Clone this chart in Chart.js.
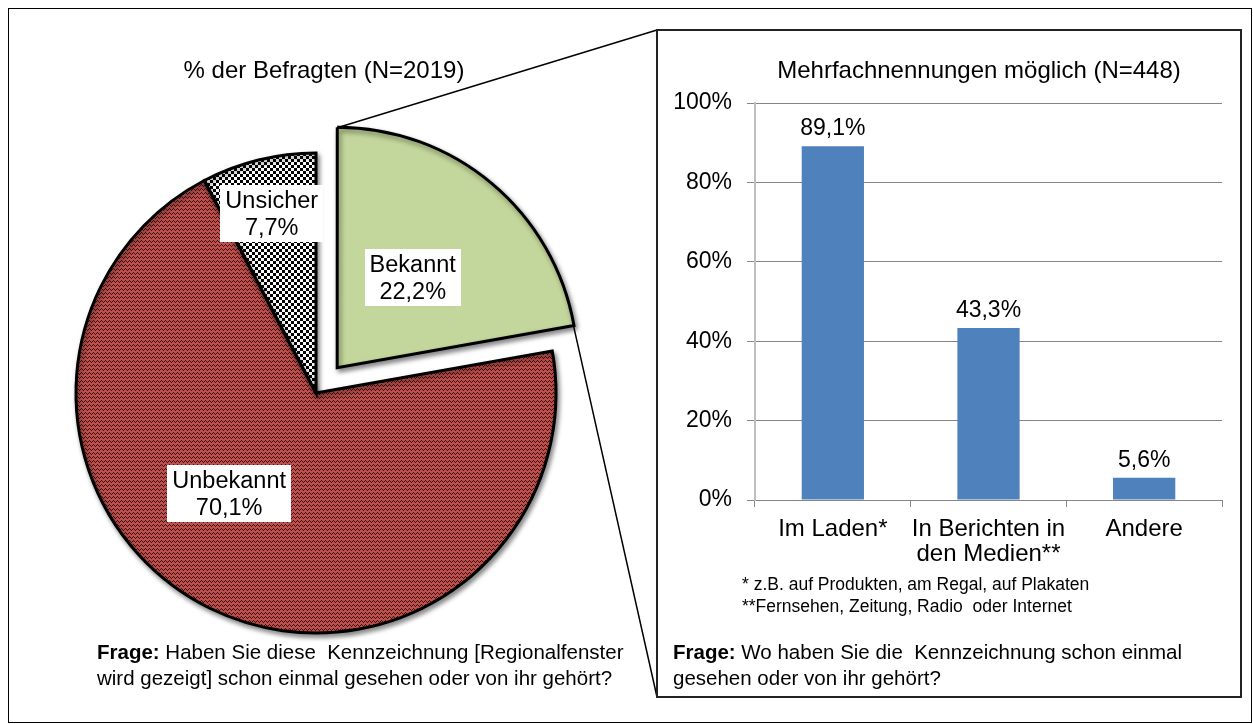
<!DOCTYPE html>
<html>
<head>
<meta charset="utf-8">
<script src="https://cdn.jsdelivr.net/npm/chart.js@4"></script>
<style>
    html, body { margin: 0; padding: 0; background: #fff; }
    body { width: 1253px; height: 724px; position: relative; overflow: hidden;
           font-family: "Liberation Sans", Arial, sans-serif; color: #000; }
    canvas { position: absolute; }
    #pie   { left: 0; top: 0; z-index: 0; }
    #bar   { left: 660px; top: 32px; z-index: 2; }
    .frame { position: absolute; left: 8px; top: 8px; width: 1244px; height: 715px;
             border: 1px solid #000; box-sizing: border-box; z-index: 1; }
    .box   { position: absolute; left: 656px; top: 29px; width: 586px; height: 669px;
             border: 2px solid #222; box-sizing: border-box; z-index: 1; }
    .txt   { position: absolute; z-index: 3; white-space: nowrap; }
    .title { font-size: 24px; line-height: 28px; text-align: center; width: 600px; top: 56px; }
    .frage { font-size: 20.5px; line-height: 26px; top: 639px; }
    .note  { font-size: 17.5px; line-height: 22px; left: 742px; top: 573px; }
</style>
</head>
<body>
<div class="frame"></div>
<div class="box"></div>
<canvas id="pie" width="1253" height="724"></canvas>
<canvas id="bar" width="578" height="580"></canvas>

<div class="txt title" style="left:24px">% der Befragten (N=2019)</div>
<div class="txt title" style="left:679px">Mehrfachnennungen möglich (N=448)</div>
<div class="txt frage" style="left:97px"><b>Frage:</b> Haben Sie diese&nbsp; Kennzeichnung [Regionalfenster<br>wird gezeigt] schon einmal gesehen oder von ihr gehört?</div>
<div class="txt frage" style="left:673px"><b>Frage:</b> Wo haben Sie die&nbsp; Kennzeichnung schon einmal<br>gesehen oder von ihr gehört?</div>
<div class="txt note">* z.B. auf Produkten, am Regal, auf Plakaten<br>**Fernsehen, Zeitung, Radio&nbsp; oder Internet</div>

<script>
// left: pie
const pieLabels = ['Bekannt', 'Unbekannt', 'Unsicher']
const pieValues = [22.2, 70.1, 7.7]

// right: bars
const barLabels = ['Im Laden*', ['In Berichten in', 'den Medien**'], 'Andere']
const barValues = [89.1, 43.3, 5.6]
const yMin  = 0
const yMax  = 100
const yStep = 20

// label placement inside the slices (fraction of radius, angle shift in degrees)
const pieLabelPos = [{ r: 0.49, da: 0 }, { r: 0.555, da: 14.6 }, { r: 0.77, da: 0 }]
// corners of the zoom box the exploded slice points to
const boxEdge = { left: 657, top: 30, bottom: 697 }

const FONT = '"Liberation Sans", Arial, sans-serif'
Chart.defaults.font.family = FONT
Chart.defaults.color = '#000'

const pct = (v) => v.toFixed(1).replace('.', ',') + '%'

function zigzag() {
    let c = document.createElement('canvas')
    c.width = 4
    c.height = 4
    let x = c.getContext('2d')
    x.fillStyle = '#c0504d'
    x.fillRect(0, 0, 4, 4)
    x.fillStyle = '#3a1212'
    ;[1, 0, 1, 2].forEach((y, i) => x.fillRect(i, y, 1, 1))
    return x.createPattern(c, 'repeat')
}

function checker() {
    let c = document.createElement('canvas')
    c.width = 6
    c.height = 6
    let x = c.getContext('2d')
    x.fillStyle = '#fff'
    x.fillRect(0, 0, 6, 6)
    x.fillStyle = '#000'
    x.fillRect(0, 0, 3, 3)
    x.fillRect(3, 3, 3, 3)
    return x.createPattern(c, 'repeat')
}

function sliceCenter(arc) {
    let off  = (arc.options.offset || 0) / 4
    let half = (arc.startAngle + arc.endAngle) / 2
    return { x: arc.x + Math.cos(half) * off, y: arc.y + Math.sin(half) * off }
}

const shadowPlugin = {
    id: 'shadow',
    beforeDatasetsDraw(chart) {
        let ctx = chart.ctx
        ctx.save()
        ctx.shadowColor = 'rgba(0,0,0,0.45)'
        ctx.shadowBlur = 5
        ctx.shadowOffsetX = 2
        ctx.shadowOffsetY = 3
    },
    afterDatasetsDraw(chart) {
        chart.ctx.restore()
    }
}

const connectorPlugin = {
    id: 'connector',
    afterDraw(chart) {
        let ctx = chart.ctx
        let arc = chart.getDatasetMeta(0).data[0]
        let c = sliceCenter(arc)
        let R = arc.outerRadius
        ctx.save()
        ctx.strokeStyle = '#000'
        ctx.lineWidth = 1.5
        ctx.beginPath()
        ctx.moveTo(c.x + Math.cos(arc.startAngle) * R, c.y + Math.sin(arc.startAngle) * R)
        ctx.lineTo(boxEdge.left, boxEdge.top)
        ctx.moveTo(c.x + Math.cos(arc.endAngle) * R, c.y + Math.sin(arc.endAngle) * R)
        ctx.lineTo(boxEdge.left, boxEdge.bottom)
        ctx.stroke()
        ctx.restore()
    }
}

const pieLabelPlugin = {
    id: 'pieLabels',
    afterDraw(chart) {
        let ctx = chart.ctx
        let meta = chart.getDatasetMeta(0)
        ctx.save()
        ctx.font = '23.5px ' + FONT
        ctx.textAlign = 'center'
        ctx.textBaseline = 'middle'
        meta.data.forEach((arc, i) => {
            let c = sliceCenter(arc)
            let pos = pieLabelPos[i]
            let a = (arc.startAngle + arc.endAngle) / 2 + pos.da * Math.PI / 180
            let x = c.x + Math.cos(a) * arc.outerRadius * pos.r
            let y = c.y + Math.sin(a) * arc.outerRadius * pos.r
            let lines = [pieLabels[i], pct(pieValues[i])]
            let w = Math.max(...lines.map((l) => ctx.measureText(l).width)) + 10
            let lh = 27
            let h = lh * 2 + 3
            ctx.fillStyle = '#fff'
            ctx.fillRect(Math.round(x - w / 2), Math.round(y - h / 2), Math.round(w), h)
            ctx.fillStyle = '#000'
            ctx.fillText(lines[0], x, y - lh / 2 + 1)
            ctx.fillText(lines[1], x, y + lh / 2 + 1)
        })
        ctx.restore()
    }
}

new Chart(document.getElementById('pie'), {
    type: 'pie',
    data: {
        labels: pieLabels,
        datasets: [{
            data: pieValues,
            backgroundColor: ['#c3d69b', zigzag(), checker()],
            borderColor: '#000',
            borderWidth: 3,
            borderJoinStyle: 'miter',
            offset: [132, 0, 0]
        }]
    },
    options: {
        responsive: false,
        animation: false,
        events: [],
        radius: 240,
        layout: { padding: { left: 0, right: 621, top: 62, bottom: 0 } },
        plugins: { legend: { display: false }, tooltip: { enabled: false } }
    },
    plugins: [shadowPlugin, connectorPlugin, pieLabelPlugin]
})

const valuePlugin = {
    id: 'values',
    afterDatasetsDraw(chart) {
        let ctx = chart.ctx
        ctx.save()
        ctx.font = '23px ' + FONT
        ctx.fillStyle = '#000'
        ctx.textAlign = 'center'
        ctx.textBaseline = 'alphabetic'
        chart.getDatasetMeta(0).data.forEach((bar, i) => {
            ctx.fillText(pct(barValues[i]), bar.x, bar.y - 11)
        })
        ctx.restore()
    }
}

new Chart(document.getElementById('bar'), {
    type: 'bar',
    data: {
        labels: barLabels,
        datasets: [{
            data: barValues,
            backgroundColor: '#4f81bd',
            barPercentage: 0.4,
            categoryPercentage: 1
        }]
    },
    options: {
        responsive: false,
        animation: false,
        events: [],
        layout: { padding: { left: 0, top: 71, right: 16, bottom: 0 } },
        scales: {
            x: {
                grid: { drawOnChartArea: false, tickLength: 7, color: '#868686' },
                border: { color: '#868686', width: 1 },
                ticks: { color: '#000', font: { size: 24, lineHeight: 1.05 }, padding: 10, maxRotation: 0, autoSkip: false },
                afterFit: (s) => { s.height = 112 }
            },
            y: {
                min: yMin,
                max: yMax,
                ticks: { stepSize: yStep, callback: (v) => v + '%', color: '#000', font: { size: 23 }, padding: 15 },
                grid: { color: '#868686', tickLength: 8 },
                border: { color: '#bfbfbf', width: 2 },
                afterFit: (s) => { s.width = 95 }
            }
        },
        plugins: { legend: { display: false }, tooltip: { enabled: false } }
    },
    plugins: [valuePlugin]
})
</script>
</body>
</html>
